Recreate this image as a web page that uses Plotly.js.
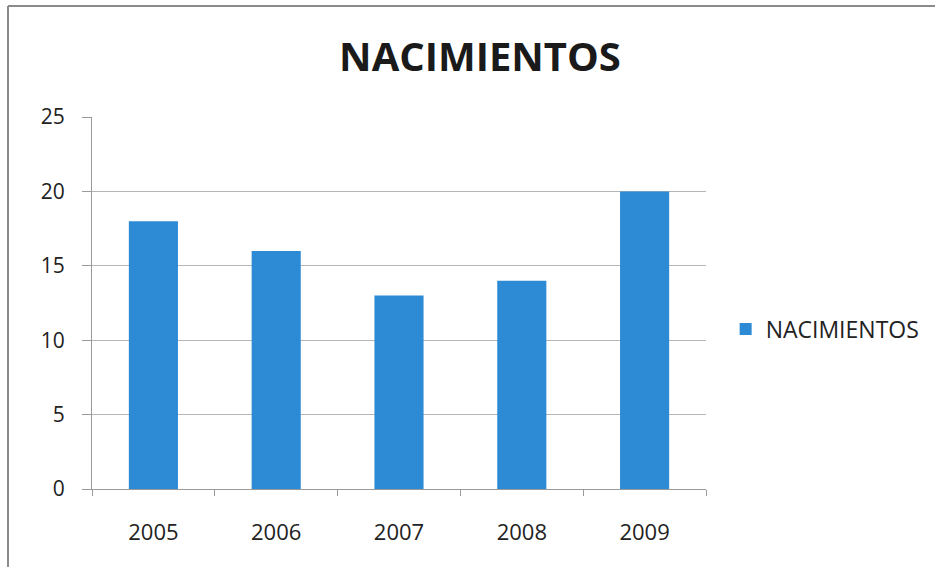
<!DOCTYPE html>
<html>
<head>
<meta charset="utf-8">
<script src="https://cdn.plot.ly/plotly-3.0.1.min.js"></script>
<style>
html,body{margin:0;padding:0;background:#fff;}
#chart{width:935px;height:567px;}
</style>
</head>
<body>
<div id="chart"></div>
<script>
const years = ['2005', '2006', '2007', '2008', '2009'];
const nacimientos = [18, 16, 13, 14, 20];
const seriesName = 'NACIMIENTOS';
const chartTitle = 'NACIMIENTOS';
const yTicks = [0, 5, 10, 15, 20, 25];

const font = '"Open Sans", "DejaVu Sans", sans-serif';

const trace = {
  type: 'bar',
  x: years,
  y: nacimientos,
  name: seriesName,
  marker: {color: '#2D8BD5', line: {width: 0}},
  showlegend: true,
  hoverinfo: 'x+y'
};

const layout = {
  width: 935,
  height: 567,
  margin: {l: 92, r: 229, t: 117, b: 78, autoexpand: false},
  paper_bgcolor: '#ffffff',
  plot_bgcolor: '#ffffff',
  bargap: 0.6,
  showlegend: true,
  title: {
    text: chartTitle,
    font: {family: font, size: 40, color: '#1a1a1a', weight: 'bold'},
    xref: 'container', yref: 'container',
    x: 480 / 935, xanchor: 'center',
    y: 1 - 57 / 567, yanchor: 'middle'
  },
  xaxis: {
    type: 'category',
    showgrid: false,
    showline: true,
    linecolor: '#9a9a9a',
    linewidth: 1,
    ticks: 'outside',
    tickson: 'boundaries',
    ticklen: 6,
    tickcolor: '#9a9a9a',
    ticklabelstandoff: 24,
    tickfont: {family: font, size: 22, color: '#222'},
    zeroline: false,
    automargin: false,
    fixedrange: true
  },
  yaxis: {
    range: [0, 25],
    tickvals: yTicks,
    ticktext: yTicks.map(String),
    showgrid: true,
    gridcolor: '#b5b5b5',
    gridwidth: 1,
    showline: true,
    linecolor: '#9a9a9a',
    linewidth: 1,
    ticks: 'outside',
    ticklen: 9,
    tickcolor: '#9a9a9a',
    ticklabelstandoff: 13,
    tickfont: {family: font, size: 21, color: '#222'},
    zeroline: false,
    automargin: false,
    fixedrange: true
  },
  legend: {
    x: 1.032, xanchor: 'left',
    y: (489 - 329) / 372, yanchor: 'middle',
    font: {family: font, size: 23, color: '#222'},
    bgcolor: 'rgba(0,0,0,0)',
    itemwidth: 30
  },
  shapes: [
    {type: 'line', xref: 'paper', yref: 'paper',
     x0: (8 - 92) / 614, x1: (935 - 92) / 614,
     y0: 1 + (117 - 6) / 372, y1: 1 + (117 - 6) / 372,
     line: {color: '#8a8a8a', width: 2}},
    {type: 'line', xref: 'paper', yref: 'paper',
     x0: (8 - 92) / 614, x1: (8 - 92) / 614,
     y0: 1 + (117 - 6) / 372, y1: -(567 - 489) / 372,
     line: {color: '#8a8a8a', width: 2}}
  ]
};

Plotly.newPlot('chart', [trace], layout, {displayModeBar: false, staticPlot: true});
</script>
</body>
</html>
